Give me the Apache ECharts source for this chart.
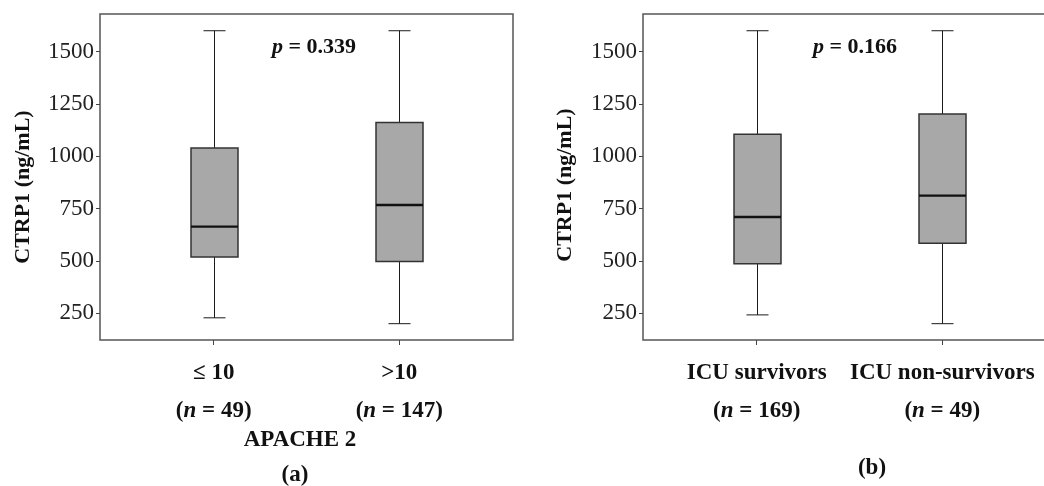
<!DOCTYPE html>
<html>
<head>
<meta charset="utf-8">
<script src="https://cdn.jsdelivr.net/npm/echarts@6/dist/echarts.min.js"></script>
<style>
html,body{margin:0;padding:0;background:#fff;}
#chart{width:1044px;height:486px;}
</style>
</head>
<body>
<div id="chart"></div>
<script>
// ---- data ----
const categoriesA = ['≤ 10', '>10'];
const nA = [49, 147];
const categoriesB = ['ICU survivors', 'ICU non-survivors'];
const nB = [169, 49];
// [low whisker, Q1, median, Q3, high whisker]
const boxA = [[228, 519, 664, 1040, 1600], [200, 497, 767, 1161, 1600]];
const boxB = [[242, 486, 710, 1105, 1600], [200, 584, 812, 1202, 1600]];
const yTicks = [250, 500, 750, 1000, 1250, 1500];
const pValues = ['0.339', '0.166'];
const xTitleA = 'APACHE 2';
const yTitle = 'CTRP1 (ng/mL)';
const panelLabels = ['(a)', '(b)'];

const FONT = '"Liberation Serif", "DejaVu Serif", serif';
const BOX_W = 47, CAP_W = 22;

function toData(arr) { return arr.map((v, i) => [i + 1].concat(v)); }

function renderBox(params, api) {
  const x = api.value(0);
  const lo = api.coord([x, api.value(1)]);
  const q1 = api.coord([x, api.value(2)]);
  const md = api.coord([x, api.value(3)]);
  const q3 = api.coord([x, api.value(4)]);
  const hi = api.coord([x, api.value(5)]);
  const cx = Math.round(lo[0]) + 0.5;
  const lineStyle = { stroke: '#1a1a1a', lineWidth: 1 };
  return {
    type: 'group',
    children: [
      { type: 'line', shape: { x1: cx, y1: lo[1], x2: cx, y2: q1[1] }, style: lineStyle },
      { type: 'line', shape: { x1: cx, y1: q3[1], x2: cx, y2: hi[1] }, style: lineStyle },
      { type: 'line', shape: { x1: cx - CAP_W / 2, y1: lo[1], x2: cx + CAP_W / 2, y2: lo[1] }, style: lineStyle },
      { type: 'line', shape: { x1: cx - CAP_W / 2, y1: hi[1], x2: cx + CAP_W / 2, y2: hi[1] }, style: lineStyle },
      { type: 'rect', shape: { x: cx - BOX_W / 2, y: q3[1], width: BOX_W, height: q1[1] - q3[1] },
        style: { fill: '#a8a8a8', stroke: '#333', lineWidth: 1.5 } },
      { type: 'line', shape: { x1: cx - BOX_W / 2, y1: md[1], x2: cx + BOX_W / 2, y2: md[1] },
        style: { stroke: '#111', lineWidth: 2.4 } }
    ]
  };
}

function xAxisFor(gridIndex, cats, ns) {
  return {
    type: 'value', gridIndex: gridIndex, min: 0.387, max: 2.613,
    splitLine: { show: false },
    axisLine: { show: false },
    axisTick: { show: true, customValues: [1, 2], length: 5, lineStyle: { color: '#444', width: 1 } },
    axisLabel: {
      customValues: [1, 2], margin: 14,
      formatter: function (v) {
        const i = Math.round(v) - 1;
        return '{b|' + cats[i] + '}\n{b|(}{i|n}{b| = ' + ns[i] + ')}';
      },
      rich: {
        b: { fontFamily: FONT, fontSize: 23, fontWeight: 'bold', color: '#111', lineHeight: 38 },
        i: { fontFamily: FONT, fontSize: 23, fontWeight: 'bold', fontStyle: 'italic', color: '#111', lineHeight: 38 }
      }
    }
  };
}

function yAxisFor(gridIndex) {
  return {
    type: 'value', gridIndex: gridIndex, min: 122, max: 1680,
    splitLine: { show: false },
    axisLine: { show: false },
    axisTick: { show: true, customValues: yTicks, length: 4, lineStyle: { color: '#444', width: 1 } },
    axisLabel: { customValues: yTicks, margin: 6, fontFamily: FONT, fontSize: 23, color: '#222',
      formatter: function (v) { return String(v); } }
  };
}

const pRich = {
  i: { fontFamily: FONT, fontSize: 22, fontStyle: 'italic', fontWeight: 'bold', fill: '#111' },
  b: { fontFamily: FONT, fontSize: 22, fontWeight: 'bold', fill: '#111' }
};
function textEl(x, y, text, opts) {
  return {
    type: 'text', x: x, y: y,
    style: Object.assign({ text: text, fontFamily: FONT, fontSize: 23, fontWeight: 'bold', fill: '#111',
      textAlign: 'center', textVerticalAlign: 'middle' }, opts || {})
  };
}
function yTitleEl(x, y) {
  return { type: 'text', x: x, y: y, rotation: Math.PI / 2,
    style: { text: yTitle, fontFamily: FONT, fontSize: 22, fontWeight: 'bold', fill: '#111',
      textAlign: 'center', textVerticalAlign: 'middle' } };
}

const chart = echarts.init(document.getElementById('chart'), null, { renderer: 'canvas' });
chart.setOption({
  animation: false,
  backgroundColor: '#fff',
  grid: [
    { left: 100, top: 14, width: 413, height: 326, show: true, borderColor: '#555', borderWidth: 1.5,
      backgroundColor: 'transparent', outerBoundsMode: 'none', containLabel: false },
    { left: 643, top: 14, width: 413, height: 326, show: true, borderColor: '#555', borderWidth: 1.5,
      backgroundColor: 'transparent', outerBoundsMode: 'none', containLabel: false }
  ],
  xAxis: [xAxisFor(0, categoriesA, nA), xAxisFor(1, categoriesB, nB)],
  yAxis: [yAxisFor(0), yAxisFor(1)],
  series: [
    { type: 'custom', xAxisIndex: 0, yAxisIndex: 0, data: toData(boxA), renderItem: renderBox,
      encode: { x: 0, y: [1, 2, 3, 4, 5] }, clip: false },
    { type: 'custom', xAxisIndex: 1, yAxisIndex: 1, data: toData(boxB), renderItem: renderBox,
      encode: { x: 0, y: [1, 2, 3, 4, 5] }, clip: false }
  ],
  graphic: [
    yTitleEl(23, 187),
    yTitleEl(565, 185),
    textEl(314, 47, '{i|p}{b| = ' + pValues[0] + '}', { rich: pRich }),
    textEl(855, 47, '{i|p}{b| = ' + pValues[1] + '}', { rich: pRich }),
    textEl(300, 440, xTitleA),
    textEl(295, 475, panelLabels[0]),
    textEl(872, 468, panelLabels[1])
  ]
});
</script>
</body>
</html>
